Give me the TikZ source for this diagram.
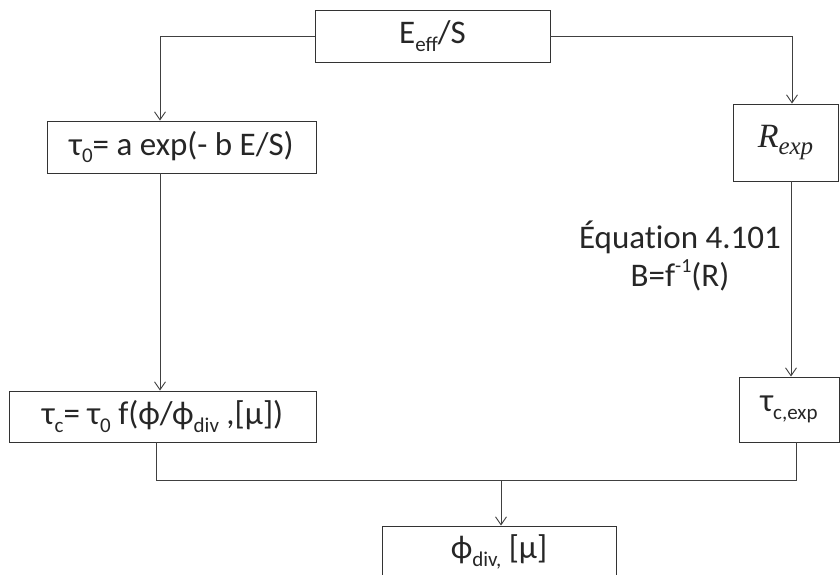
\documentclass[tikz,border=0pt]{standalone}
\usepackage{fontspec}
\setmainfont{Carlito}
\newfontfamily\myserif{Liberation Serif}
\usetikzlibrary{arrows.meta,calc}
\newcommand{\lowsub}[1]{\raisebox{-0.24em}{\fontsize{21}{22}\selectfont #1}}
\newcommand{\hisup}[1]{\raisebox{0.42em}{\fontsize{20}{21}\selectfont #1}}
\begin{document}
\begin{tikzpicture}[x=1pt,y=-1pt,
  box/.style={draw=black!80,line width=0.9pt,rectangle,inner sep=0pt,font=\fontsize{33}{36}\selectfont,text=black!85},
  conn/.style={draw=black!75,line width=0.9pt},
  arr/.style={conn,-{Straight Barb[length=8pt,width=11pt]}},
  lbl/.style={font=\fontsize{33}{36}\selectfont,text=black!85,align=center}]
\useasboundingbox (0,0) rectangle (840,574);
\clip (0,0) rectangle (840,574);
\node[box,minimum width=235,minimum height=52] (top) at (432.5,36) {E\lowsub{eff}/S};
\node[box,minimum width=269,minimum height=52] (t0) at (181.5,147) {τ\lowsub{0}= a exp(- b E/S)};
\node[box,minimum width=105,minimum height=77] (R) at (785.5,142.5) {{\myserif\itshape\fontsize{34}{36}\selectfont R\raisebox{-0.2em}{\fontsize{25}{26}\selectfont exp}}};
\node[box,minimum width=307,minimum height=51] (tc) at (162.5,416.5) {τ\lowsub{c}= τ\lowsub{0} f(ϕ/ϕ\lowsub{div} ,[μ])};
\node[box,minimum width=100,minimum height=65] (tce) at (789,409.5) {τ\lowsub{c,exp}};
\node[box,minimum width=234,minimum height=52] (bot) at (499,552) {ϕ\lowsub{div,} [μ]};
\node[lbl] (eq1) at (680,237) {Équat\kern0pt ion 4.101};
\node[lbl] (eq2) at (680,275) {B=f\hisup{-1}(R)};
\coordinate (m) at (501,480);
\draw[arr] (top.west) -| ([xshift=-21.5]t0.north);
\draw[arr] (top.east) -| ([xshift=6.5]R.north);
\draw[arr] ([xshift=5.5]R.south) -- ([xshift=5.5]R.south |- tce.north);
\draw[arr] ([xshift=-21.5]t0.south) -- ([xshift=-21.5]t0.south |- tc.north);
\draw[conn] ([xshift=-6.5]tc.south) |- (m) -| ([xshift=7]tce.south);
\draw[arr] (m) -- (m |- bot.north);
\end{tikzpicture}
\end{document}
